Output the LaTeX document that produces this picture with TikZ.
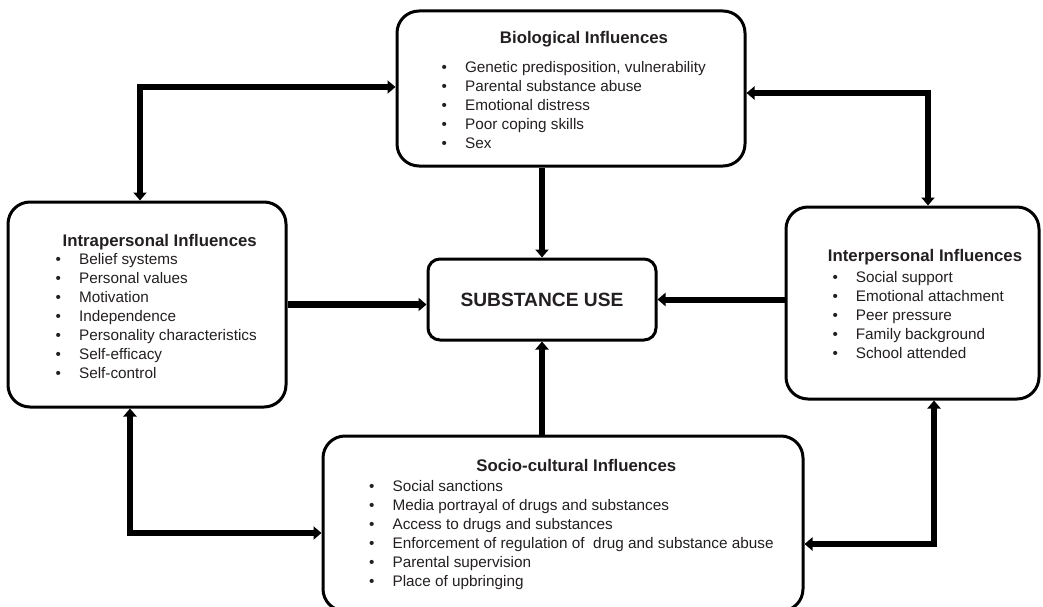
\documentclass[tikz,border=0pt]{standalone}
\usepackage{fontspec}
\setmainfont{Liberation Sans}
\usetikzlibrary{arrows.meta}
\definecolor{inktext}{RGB}{35,31,32}

\begin{document}
\begin{tikzpicture}[
x=1pt, y=-1pt,
infbox/.style={
rectangle,
rounded corners=22pt,
draw,
line width=3pt,
inner sep=0 pt,
},
heading/.style={
font=\fontsize{16.8}{20}\selectfont\bfseries,
text=inktext,
anchor=base,
inner sep=0 pt,
},
itemlist/.style={
font=\fontsize{15.3}{18.9}\selectfont,
text=inktext,
anchor=base west,
inner sep=0 pt,
},
link/.style={
line width=6pt,
arrows={-Triangle[width=13pt, length=8pt]},
},
twoway/.style={
line width=6pt,
arrows={Triangle[width=13pt, length=8pt]-Triangle[width=13pt, length=8pt]},
}
]
\useasboundingbox (0,0) rectangle (1043,607);

% boxes
\node [infbox, minimum width=348pt, minimum height=155pt] at (571,88.5) (bio) {};
\node [infbox, minimum width=278pt, minimum height=205pt] at (147,304.5) (intra) {};
\node [infbox, minimum width=253pt, minimum height=192pt] at (912.5,303) (inter) {};
\node [infbox, minimum width=480pt, minimum height=175pt] at (563,523.5) (socio) {};
\node [infbox, rounded corners=12pt, minimum width=228pt, minimum height=81pt,
font=\fontsize{19.2}{22}\selectfont\bfseries, text=inktext] at (542,299.5) (subst)
{SUBSTANCE USE};

% headings
\node [heading] at (584,44) (biohead) {Biological Influences};
\node [heading] at (159.7,246) (intrahead) {Intrapersonal Influences};
\node [heading] at (925,261) (interhead) {Interpersonal Influences};
\node [heading] at (576.3,471) (sociohead) {Socio-cultural Influences};

% item lists
\node [itemlist] at (441.5,72.5) (biolist)
{\begin{tabular}[t]{@{}l@{\hspace{18pt}}l@{}}
\textbullet & Genetic predisposition, vulnerability\\
\textbullet & Parental substance abuse\\
\textbullet & Emotional distress\\
\textbullet & Poor coping skills\\
\textbullet & Sex
\end{tabular}};
\node [itemlist, font=\fontsize{15.3}{19}\selectfont] at (55.5,264.5) (intralist)
{\begin{tabular}[t]{@{}l@{\hspace{18pt}}l@{}}
\textbullet & Belief systems\\
\textbullet & Personal values\\
\textbullet & Motivation\\
\textbullet & Independence\\
\textbullet & Personality characteristics\\
\textbullet & Self-efficacy\\
\textbullet & Self-control
\end{tabular}};
\node [itemlist, font=\fontsize{15.3}{19}\selectfont] at (832.3,282.5) (interlist)
{\begin{tabular}[t]{@{}l@{\hspace{18pt}}l@{}}
\textbullet & Social support\\
\textbullet & Emotional attachment\\
\textbullet & Peer pressure\\
\textbullet & Family background\\
\textbullet & School attended
\end{tabular}};
\node [itemlist] at (369,491.5) (sociolist)
{\begin{tabular}[t]{@{}l@{\hspace{18pt}}l@{}}
\textbullet & Social sanctions\\
\textbullet & Media portrayal of drugs and substances\\
\textbullet & Access to drugs and substances\\
\textbullet & Enforcement of regulation of\ \ drug and substance abuse\\
\textbullet & Parental supervision\\
\textbullet & Place of upbringing
\end{tabular}};

% links into substance use
\draw [link] (subst.north |- bio.south) -- (subst.north);
\draw [link, line width=7pt] (intra.east) -- (subst.west |- intra.east);
\draw [link] (inter.west |- subst.east) -- (subst.east);
\draw [link] (subst.south |- socio.north) -- (subst.south);

% two-way links round the outside
\coordinate (nwbend) at (140,87);
\coordinate (nebend) at (928,93);
\coordinate (swbend) at (130,533);
\coordinate (sebend) at (934,544);
\draw [twoway] (intra.north -| nwbend) -- (nwbend) -- (bio.west |- nwbend);
\draw [twoway] (bio.east |- nebend) -- (nebend) -- (inter.north -| nebend);
\draw [twoway] (intra.south -| swbend) -- (swbend) -- (socio.west |- swbend);
\draw [twoway] (inter.south -| sebend) -- (sebend) -- (socio.east |- sebend);

\end{tikzpicture}
\end{document}
